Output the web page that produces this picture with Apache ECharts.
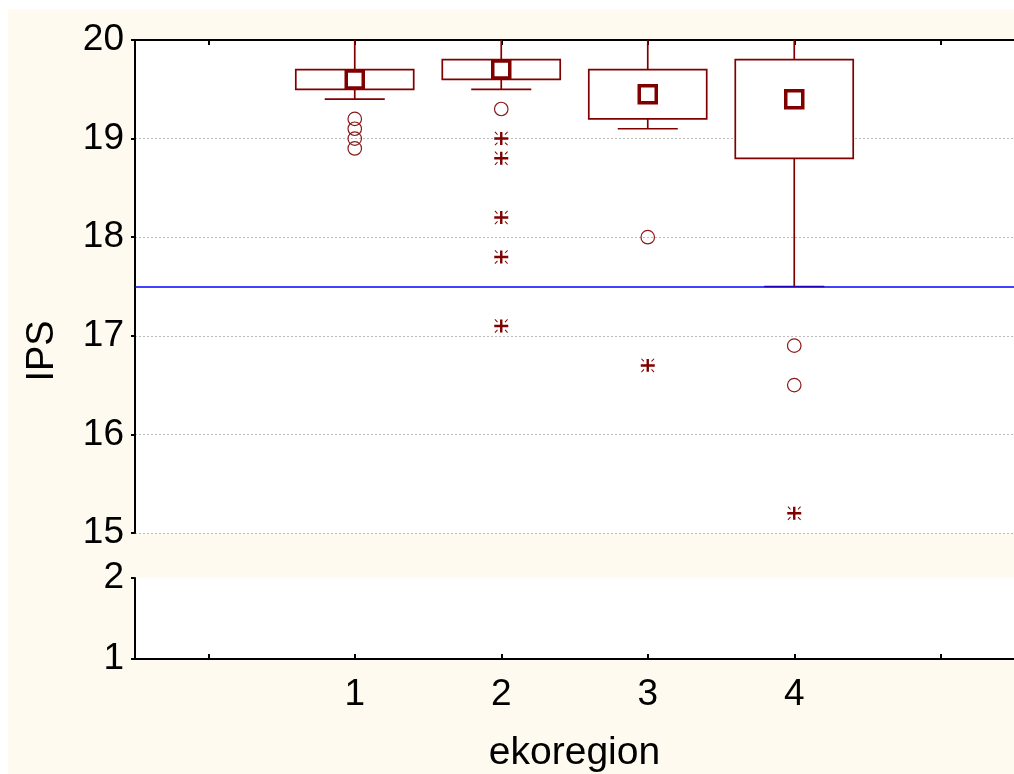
<!DOCTYPE html>
<html><head><meta charset="utf-8">
<script src="https://cdn.jsdelivr.net/npm/echarts@6/dist/echarts.min.js"></script>
<style>
html,body{margin:0;padding:0;background:#fff;}
#c{width:1014px;height:774px;background:linear-gradient(#fefaf0,#fefaf0) no-repeat 8px 9px / 1006px 765px, #fff;}
</style></head><body><div id="c"></div>
<script>
// ---- data ----
const axisSlots = ['', '1', '2', '3', '4', ' '];
const regions = [1, 2, 3, 4];               // slot index of each ekoregion
const whiskerLow  = [19.4, 19.5, 19.1, 17.5];
const boxLow      = [19.5, 19.6, 19.2, 18.8];
const boxHigh     = [19.7, 19.8, 19.7, 19.8];
const whiskerHigh = [20, 20, 20, 20];
const medians     = [19.6, 19.7, 19.45, 19.4];
const outlierRegion = [1, 1, 1, 1, 2, 3, 4, 4];
const outlierValue  = [19.2, 19.1, 19.0, 18.9, 19.3, 18.0, 16.9, 16.5];
const extremeRegion = [2, 2, 2, 2, 2, 3, 4];
const extremeValue  = [19.0, 18.8, 18.2, 17.8, 17.1, 16.7, 15.2];
const limitValue = 17.5;
const yTopRange = [15, 20];
const yBottomRange = [1, 2];

const RED = '#800000';
const FONT = 'Liberation Sans, Arial, sans-serif';
const FS = 37;
const starPath = 'path://M0,5.8H14V8.2H0Z M5.8,0.8H8.2V13.2H5.8Z ' +
  'M0.3,1 L1,0.3 L3.6,2.9 L2.9,3.6Z M13.7,1 L13,0.3 L10.4,2.9 L11.1,3.6Z ' +
  'M0.3,13 L1,13.7 L3.6,11.1 L2.9,10.4Z M13.7,13 L13,13.7 L10.4,11.1 L11.1,10.4Z';

const boxData = regions.map((r, i) => [r, whiskerLow[i], boxLow[i], boxHigh[i], whiskerHigh[i]]);
const medData = regions.map((r, i) => [r, medians[i]]);
const outData = outlierRegion.map((r, i) => [r, outlierValue[i]]);
const extData = extremeRegion.map((r, i) => [r, extremeValue[i]]);

const chart = echarts.init(document.getElementById('c'));
const axisLineStyle = { color: '#000', width: 2 };
chart.setOption({
  animation: false,
  backgroundColor: 'transparent',
  textStyle: { fontFamily: FONT },
  grid: [
    { left: 135, top: 40, right: 0, height: 493, show: true, backgroundColor: '#fff', borderWidth: 0 },
    { left: 135, top: 578, right: 0, height: 81, show: true, backgroundColor: '#fff', borderWidth: 0 }
  ],
  xAxis: [
    { gridIndex: 0, type: 'category', data: axisSlots, position: 'top', boundaryGap: true,
      axisLine: { lineStyle: axisLineStyle },
      axisTick: { show: true, inside: true, length: 5, alignWithLabel: true, interval: 0, lineStyle: { color: '#000', width: 2 } },
      axisLabel: { show: false }, splitLine: { show: false } },
    { gridIndex: 1, type: 'category', data: axisSlots, position: 'bottom', boundaryGap: true,
      axisLine: { lineStyle: axisLineStyle },
      axisTick: { show: true, inside: true, length: 5, alignWithLabel: true, interval: 0, lineStyle: { color: '#000', width: 2 } },
      axisLabel: { interval: 0, fontSize: FS, color: '#000', fontFamily: FONT, margin: 17 },
      name: 'ekoregion', nameLocation: 'middle', nameGap: 75,
      nameTextStyle: { fontSize: 39, color: '#000', fontFamily: FONT },
      splitLine: { show: false } }
  ],
  yAxis: [
    { gridIndex: 0, type: 'value', min: yTopRange[0], max: yTopRange[1], interval: 1,
      axisLine: { show: true, lineStyle: axisLineStyle },
      axisTick: { show: true, length: 4, lineStyle: { color: '#000', width: 2 } },
      axisLabel: { fontSize: FS, color: '#000', fontFamily: FONT, margin: 11 },
      splitLine: { show: true, lineStyle: { color: '#bbb', type: [2, 2], width: 1 } } },
    { gridIndex: 1, type: 'value', min: yBottomRange[0], max: yBottomRange[1], interval: 1,
      axisLine: { show: true, lineStyle: axisLineStyle },
      axisTick: { show: true, length: 4, lineStyle: { color: '#000', width: 2 } },
      axisLabel: { fontSize: FS, color: '#000', fontFamily: FONT, margin: 11 },
      splitLine: { show: false } }
  ],
  graphic: [
    { type: 'text', x: 43, y: 351, rotation: Math.PI / 2,
      style: { text: 'IPS', font: '38px ' + FONT, fill: '#000', align: 'center', verticalAlign: 'middle' } }
  ],
  series: [
    { type: 'custom', xAxisIndex: 0, yAxisIndex: 0, data: boxData, z: 2,
      renderItem: function (params, api) {
        const x = api.value(0);
        const pLow = api.coord([x, api.value(1)]);
        const pQ1 = api.coord([x, api.value(2)]);
        const pQ3 = api.coord([x, api.value(3)]);
        const pHigh = api.coord([x, api.value(4)]);
        const band = api.size([1, 0])[0];
        const bw = band * 0.805, cw = band * 0.41;
        const cx = pLow[0];
        const st = { stroke: RED, lineWidth: 1.7, fill: null };
        return { type: 'group', children: [
          { type: 'line', shape: { x1: cx, y1: pHigh[1], x2: cx, y2: pQ3[1] }, style: st },
          { type: 'line', shape: { x1: cx, y1: pQ1[1], x2: cx, y2: pLow[1] }, style: st },
          { type: 'line', shape: { x1: cx - cw / 2, y1: pLow[1], x2: cx + cw / 2, y2: pLow[1] }, style: st },
          { type: 'rect', shape: { x: cx - bw / 2, y: pQ3[1], width: bw, height: pQ1[1] - pQ3[1] },
            style: { stroke: RED, lineWidth: 1.7, fill: '#fff' } }
        ] };
      },
      markLine: { silent: true, symbol: 'none', label: { show: false }, z: 5,
        lineStyle: { color: '#0000ff', width: 1.6, type: 'solid' },
        data: [{ yAxis: limitValue }] }
    },
    { type: 'scatter', xAxisIndex: 0, yAxisIndex: 0, data: medData, symbol: 'rect', symbolSize: 17, z: 4,
      itemStyle: { color: '#fff', borderColor: RED, borderWidth: 3.5, opacity: 1 } },
    { type: 'scatter', xAxisIndex: 0, yAxisIndex: 0, data: outData, symbol: 'circle', symbolSize: 13.5, z: 3,
      itemStyle: { color: 'rgba(255,255,255,0)', borderColor: '#8b1a1a', borderWidth: 1.2, opacity: 1 } },
    { type: 'scatter', xAxisIndex: 0, yAxisIndex: 0, data: extData, symbol: starPath, symbolSize: 14, z: 3,
      itemStyle: { color: RED, opacity: 1 } }
  ]
});
</script></body></html>
